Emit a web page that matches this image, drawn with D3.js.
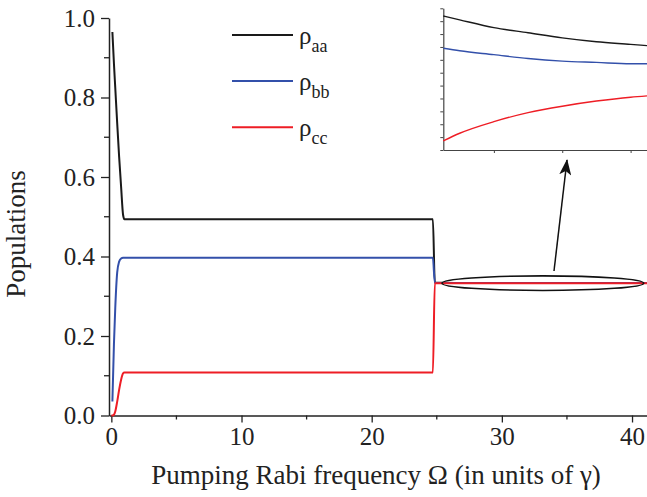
<!DOCTYPE html>
<html>
<head>
<meta charset="utf-8">
<script src="https://cdn.jsdelivr.net/npm/d3@7"></script>
<style>
  body { margin: 0; background: #fff; }
</style>
</head>
<body>
<svg id="chart"></svg>
<script>
// pumping Rabi frequency (units of gamma)
const omega = [0, 0.08, 0.2, 0.3, 0.45, 0.6, 0.75, 0.9, 1.0, 1.5, 5, 10, 15, 20, 24.7, 24.85,
               26.3, 27.5, 30, 32.5, 35, 37.5, 40, 41.2];
const rhoAA = [null, 0.965, 0.885, 0.825, 0.735, 0.65, 0.575, 0.505, 0.494, 0.494, 0.494, 0.494, 0.494, 0.494, 0.494, 0.3345,
               0.33344, 0.33341, 0.33335, 0.33331, 0.33327, 0.33324, 0.33322, 0.33321];
const rhoBB = [null, 0.035, 0.18, 0.27, 0.36, 0.387, 0.395, 0.397, 0.397, 0.397, 0.397, 0.397, 0.397, 0.397, 0.397, 0.3335,
               0.33319, 0.33317, 0.33314, 0.33311, 0.33309, 0.33308, 0.33307, 0.33307];
const rhoCC = [0, 0.0, 0.002, 0.01, 0.035, 0.065, 0.09, 0.106, 0.108, 0.108, 0.108, 0.108, 0.108, 0.108, 0.108, 0.3325,
               0.33247, 0.33253, 0.33262, 0.33269, 0.33274, 0.33278, 0.33281, 0.33282];

// zoomed region (inset)
const insetOmega = [26.3, 27.5, 30, 32.5, 35, 37.5, 40, 41.2];
const insetAA = [0.33344, 0.33341, 0.33335, 0.33331, 0.33327, 0.33324, 0.33322, 0.33321];
const insetBB = [0.33319, 0.33317, 0.33314, 0.33311, 0.33309, 0.33308, 0.33307, 0.33307];
const insetCC = [0.33247, 0.33253, 0.33262, 0.33269, 0.33274, 0.33278, 0.33281, 0.33282];

const xTicks = [0, 10, 20, 30, 40];
const xMinor = [5, 15, 25, 35];
const yTicks = [0, 0.2, 0.4, 0.6, 0.8, 1.0];
const yMinor = [0.1, 0.3, 0.5, 0.7, 0.9];
const insetXTicks = [30, 35, 40];
const insetYTicks = d3.range(12).map(k => 0.3324 + k * 0.0001);

const seriesNames = ['aa', 'bb', 'cc'];
const colors = ['#1a1a1a', '#3350aa', '#ee1d25'];

const FONT = '"Liberation Serif", "Times New Roman", serif';
const width = 647, height = 497;
const svg = d3.select('#chart').attr('width', width).attr('height', height)
  .attr('font-family', FONT);

const x = d3.scaleLinear().domain([-0.18, 41.15]).range([109, 647]);
const y = d3.scaleLinear().domain([0, 1]).range([415.5, 18]);

const defs = svg.append('defs');
defs.append('clipPath').attr('id', 'clip')
  .append('rect').attr('x', 109).attr('y', 0).attr('width', 538).attr('height', 420);

// axes
const axisColor = '#222';
function styleAxis(g, fs) {
  g.attr('font-family', FONT).attr('font-size', fs);
  g.select('.domain').attr('stroke', axisColor).attr('stroke-width', 1.5);
  g.selectAll('.tick line').attr('stroke', axisColor).attr('stroke-width', 1.3);
  g.selectAll('.tick text').attr('fill', '#222');
}

const gx = svg.append('g').attr('transform', 'translate(0,415.5)')
  .call(d3.axisBottom(x).tickValues(xTicks).tickSize(7).tickPadding(5).tickFormat(d3.format('d')).tickSizeOuter(0));
styleAxis(gx, 25);
gx.selectAll('.minor').data(xMinor).enter().append('line')
  .attr('x1', d => x(d)).attr('x2', d => x(d)).attr('y1', 0).attr('y2', 4)
  .attr('stroke', axisColor).attr('stroke-width', 1.3);

const gy = svg.append('g').attr('transform', 'translate(109,0)')
  .call(d3.axisLeft(y).tickValues(yTicks).tickSize(8).tickPadding(6).tickFormat(d3.format('.1f')).tickSizeOuter(0));
styleAxis(gy, 25);
gy.selectAll('.minor').data(yMinor).enter().append('line')
  .attr('x1', 0).attr('x2', -5).attr('y1', d => y(d)).attr('y2', d => y(d))
  .attr('stroke', axisColor).attr('stroke-width', 1.3);

svg.append('text')
  .attr('transform', 'translate(25,234) rotate(-90)')
  .attr('text-anchor', 'middle')
  .attr('font-size', 27).attr('fill', '#222')
  .text('Populations');

svg.append('text')
  .attr('x', 376).attr('y', 484)
  .attr('text-anchor', 'middle')
  .attr('font-size', 27).attr('fill', '#222')
  .text('Pumping Rabi frequency Ω (in units of γ)');

// curves
const mainSeries = [rhoAA, rhoBB, rhoCC];
const line = d3.line()
  .defined(d => d[1] != null)
  .x(d => x(d[0])).y(d => y(d[1]))
  .curve(d3.curveMonotoneX);

const plot = svg.append('g').attr('clip-path', 'url(#clip)');
mainSeries.forEach((s, i) => {
  plot.append('path')
    .datum(omega.map((o, j) => [o, s[j]]))
    .attr('d', line)
    .attr('fill', 'none')
    .attr('stroke', colors[i])
    .attr('stroke-width', 2);
});

// legend
const legendY = [35, 81, 127.3];
seriesNames.forEach((n, i) => {
  svg.append('line')
    .attr('x1', 232).attr('x2', 293).attr('y1', legendY[i]).attr('y2', legendY[i])
    .attr('stroke', colors[i]).attr('stroke-width', 2);
  const t = svg.append('text').attr('x', 299).attr('y', legendY[i] + 9).attr('fill', '#222');
  t.append('tspan').attr('font-size', 25).text('ρ');
  t.append('tspan').attr('font-size', 18).attr('dy', 8).text(n);
});

// ellipse + arrow marking the zoomed region
svg.append('ellipse')
  .attr('cx', x(33.15)).attr('cy', y(0.333))
  .attr('rx', x(40.9) - x(33.15)).attr('ry', 7.3)
  .attr('fill', 'none').attr('stroke', '#111').attr('stroke-width', 1.6);

defs.append('marker')
  .attr('id', 'arrow').attr('viewBox', '0 0 16 12')
  .attr('refX', 15).attr('refY', 6)
  .attr('markerWidth', 16).attr('markerHeight', 12)
  .attr('markerUnits', 'userSpaceOnUse')
  .attr('orient', 'auto')
  .append('path').attr('d', 'M0,0 L16,6 L0,12 L4,6 Z').attr('fill', '#111');

svg.append('line')
  .attr('x1', 554).attr('y1', 271).attr('x2', 567).attr('y2', 160)
  .attr('stroke', '#111').attr('stroke-width', 1.5)
  .attr('marker-end', 'url(#arrow)');

// inset
const ix = d3.scaleLinear().domain([26.3, 41.2]).range([443.3, 647]);
const iy = d3.scaleLinear().domain([0.3324, 0.3335]).range([150, 8.3]);

const igx = svg.append('g').attr('transform', 'translate(0,150)')
  .call(d3.axisBottom(ix).tickValues(insetXTicks).tickSize(3).tickFormat('').tickSizeOuter(0));
const igy = svg.append('g').attr('transform', 'translate(443.3,0)')
  .call(d3.axisLeft(iy).tickValues(insetYTicks).tickSize(3).tickFormat('').tickSizeOuter(0));
[igx, igy].forEach(g => {
  g.select('.domain').attr('stroke', '#444').attr('stroke-width', 1.2);
  g.selectAll('.tick line').attr('stroke', '#444').attr('stroke-width', 1);
});

const iline = d3.line().x(d => ix(d[0])).y(d => iy(d[1])).curve(d3.curveMonotoneX);
[insetAA, insetBB, insetCC].forEach((s, i) => {
  svg.append('path')
    .datum(insetOmega.map((o, j) => [o, s[j]]))
    .attr('d', iline)
    .attr('fill', 'none')
    .attr('stroke', colors[i])
    .attr('stroke-width', 1.4);
});
</script>
</body>
</html>
